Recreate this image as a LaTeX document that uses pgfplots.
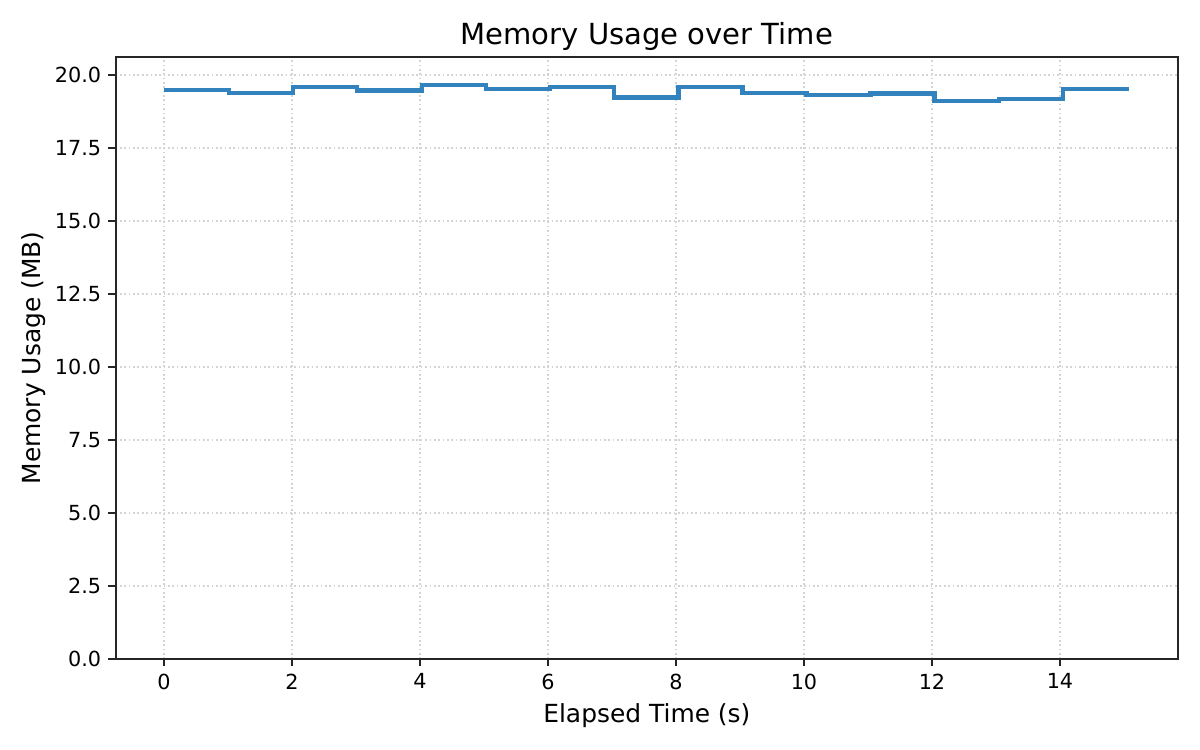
\documentclass[border=0pt]{standalone}
\usepackage{fontspec}
\setmainfont{DejaVu Sans}
\usepackage{pgfplots}
\pgfplotsset{compat=1.18}
\definecolor{line1}{RGB}{49,130,189}
\definecolor{gridc}{RGB}{212,212,212}
\definecolor{axc}{RGB}{38,38,38}
\begin{document}
\begin{tikzpicture}
\path[use as bounding box] (-0.7713in,-0.6067in) rectangle (7.2287in,4.3933in);
\begin{axis}[
  scale only axis,
  width=7.082in, height=4.0133in,
  at={(0,0)}, anchor=south west,
  xmin=-0.7545, xmax=15.8445,
  ymin=0, ymax=20.62,
  xtick={0,2,...,14},
  ytick={0,2.5,...,20},
  /pgf/number format/assume math mode=true,
  yticklabel style={/pgf/number format/.cd,fixed,fixed zerofill,precision=1},
  xticklabel style={/pgf/number format/.cd,fixed},
  tick label style={font=\fontsize{10}{12}\selectfont},
  label style={font=\fontsize{12}{14}\selectfont},
  title style={font=\fontsize{14}{16}\selectfont, yshift=-6.5pt},
  title={Memory Usage over Time},
  xlabel={Elapsed Time (s)},
  ylabel={Memory Usage (MB)},
  ylabel shift=-2.4pt,
  tick align=outside,
  major tick length=3.5pt,
  tick style={axc, line width=0.8pt},
  axis line style={axc, line width=0.8pt},
  xtick pos=bottom, ytick pos=left,
  grid=major,
  major grid style={gridc, line width=0.8pt, dash pattern=on 0.8pt off 1.3pt},
]
\addplot[const plot, line width=2pt, color=line1] coordinates {
(0.00,19.50)
(1.02,19.40)
(2.02,19.58)
(3.02,19.47)
(4.03,19.66)
(5.03,19.51)
(6.03,19.58)
(7.03,19.23)
(8.04,19.58)
(9.04,19.40)
(10.04,19.31)
(11.04,19.37)
(12.04,19.10)
(13.05,19.19)
(14.05,19.51)
(15.08,19.51)
};
\end{axis}
\end{tikzpicture}
\end{document}
